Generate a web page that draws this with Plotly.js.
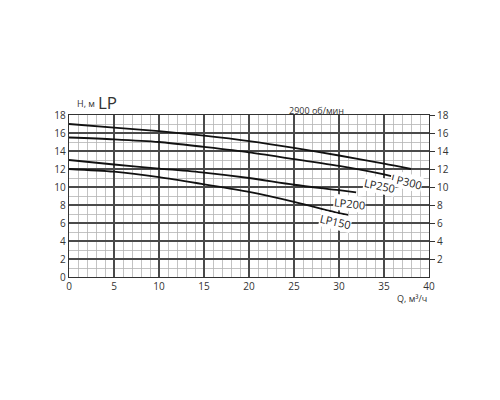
<!DOCTYPE html>
<html>
<head>
<meta charset="utf-8">
<script src="https://cdn.plot.ly/plotly-3.0.1.min.js"></script>
<style>html,body{margin:0;padding:0;background:#fff;}#chart{width:500px;height:400px;}</style>
</head>
<body>
<div id="chart"></div>
<script>
// Pump curves, Q (m3/h) vs H (m)
const seriesNames = ["LP300", "LP250", "LP200", "LP150"];
const qLP300 = [0, 5, 10, 15, 20, 25, 30, 35, 38];
const hLP300 = [17, 16.6, 16.2, 15.7, 15.1, 14.35, 13.5, 12.6, 12.0];
const qLP250 = [0, 5, 10, 15, 20, 25, 30, 35, 35.8];
const hLP250 = [15.5, 15.3, 15.0, 14.45, 13.85, 13.1, 12.35, 11.4, 11.2];
const qLP200 = [0, 5, 10, 15, 20, 25, 30, 31.9];
const hLP200 = [13, 12.5, 12.05, 11.6, 11.0, 10.25, 9.65, 9.4];
const qLP150 = [0, 5, 10, 15, 20, 25, 30, 31];
const hLP150 = [12, 11.7, 11.1, 10.3, 9.45, 8.35, 7.1, 6.9];
const xTicks = [0, 5, 10, 15, 20, 25, 30, 35, 40];
const yTicksLeft = [0, 2, 4, 6, 8, 10, 12, 14, 16, 18];
const yTicksRight = [2, 4, 6, 8, 10, 12, 14, 16, 18];

const qs = [qLP300, qLP250, qLP200, qLP150];
const hs = [hLP300, hLP250, hLP200, hLP150];
const traces = seriesNames.map((n, i) => ({
  x: qs[i], y: hs[i], name: n, type: 'scatter', mode: 'lines',
  line: {color: '#111', width: 1.8, shape: 'spline', smoothing: 0.8},
  showlegend: false, hoverinfo: 'skip'
}));
// invisible trace to activate right axis
traces.push({x: [0], y: [0], yaxis: 'y2', mode: 'markers', marker: {opacity: 0}, showlegend: false, hoverinfo: 'skip'});

const F = 'Open Sans, Noto Sans, sans-serif';
const labelPos = [[37.5, 10.65, 14], [34.5, 10.15, 12], [31.2, 8.15, 6], [29.6, 6.2, 13]];
const annotations = seriesNames.map((n, i) => ({
  x: labelPos[i][0], y: labelPos[i][1], xref: 'x', yref: 'y', text: n, showarrow: false,
  xanchor: 'center', yanchor: 'middle',
  textangle: labelPos[i][2], bgcolor: '#fff', borderpad: 0,
  font: {family: F, size: 11, color: '#222'}
}));
const paperText = (x, y, t, s) => ({xref: 'paper', yref: 'paper', x: x, y: y, text: t, showarrow: false,
  xanchor: 'center', yanchor: 'middle', font: {family: F, size: s, color: '#333'}});
annotations.push(
  paperText(0.047, 1.07, 'H, м', 9),
  paperText(0.108, 1.075, 'LP', 17),
  paperText(0.688, 1.03, '2900 об/мин', 9),
  paperText(0.953, -0.135, 'Q, м³/ч', 9)
);

const layout = {
  width: 500, height: 400,
  margin: {l: 69, r: 71, t: 115, b: 123},
  paper_bgcolor: '#fff', plot_bgcolor: '#fff',
  font: {family: F, size: 10, color: '#333'},
  xaxis: {
    range: [0, 40], tickvals: xTicks, ticktext: xTicks.map(String),
    showgrid: true, gridcolor: '#4a4a4a', gridwidth: 1.2,
    minor: {dtick: 1, showgrid: true, gridcolor: '#b4b4b4', gridwidth: 0.8},
    showline: true, linecolor: '#333', linewidth: 1.3, mirror: true,
    zeroline: false, ticks: '', ticklen: 0, fixedrange: true,
    tickfont: {family: F, size: 10, color: '#333'}
  },
  yaxis: {
    range: [0, 18], tickvals: yTicksLeft, ticktext: yTicksLeft.map(String),
    showgrid: true, gridcolor: '#4a4a4a', gridwidth: 1.2,
    minor: {dtick: 1, showgrid: true, gridcolor: '#b4b4b4', gridwidth: 0.8},
    showline: true, linecolor: '#333', linewidth: 1.3, mirror: true,
    zeroline: false, ticks: '', fixedrange: true,
    tickfont: {family: F, size: 10, color: '#333'}
  },
  yaxis2: {
    range: [0, 18], overlaying: 'y', side: 'right',
    tickvals: yTicksRight, ticktext: yTicksRight.map(String),
    showgrid: false, zeroline: false, showline: false,
    ticks: 'outside', ticklen: 5, tickcolor: '#333', tickwidth: 1, fixedrange: true,
    tickfont: {family: F, size: 10, color: '#333'}
  },
  annotations: annotations
};
Plotly.newPlot('chart', traces, layout, {displayModeBar: false, staticPlot: true});
</script>
</body>
</html>
